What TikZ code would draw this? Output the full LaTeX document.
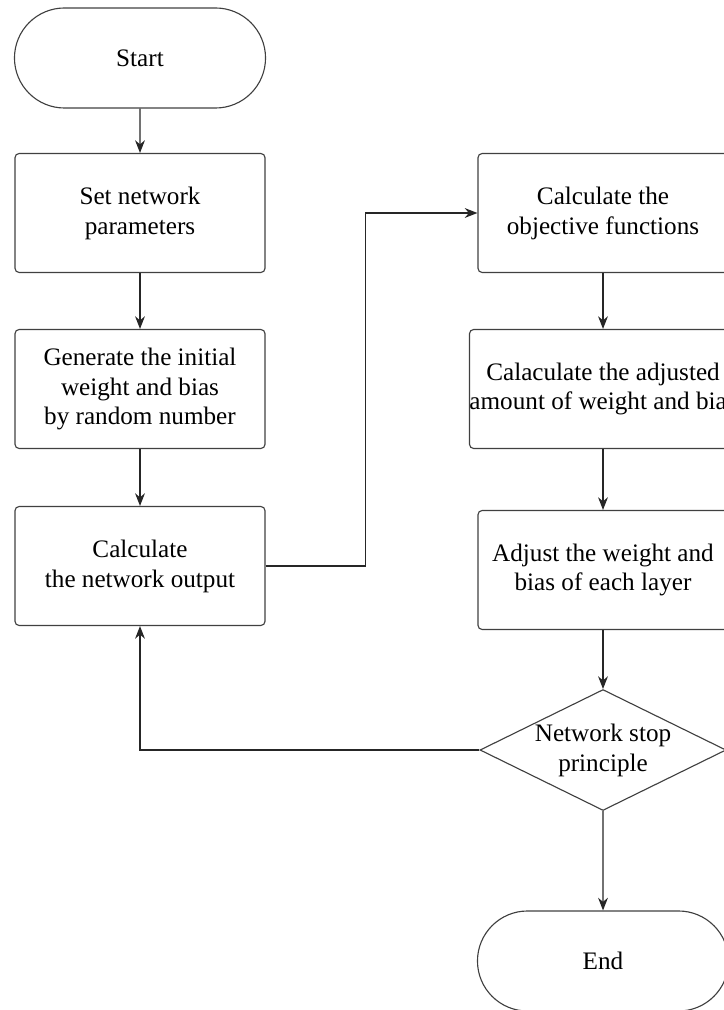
\documentclass[tikz,border=0pt]{standalone}
\usepackage{fontspec}
\setmainfont{Liberation Serif}
\usetikzlibrary{shapes.misc,shapes.geometric,arrows.meta}
\begin{document}
\begin{tikzpicture}[x=0.025cm, y=-0.025cm,
    font=\fontsize{17.9}{21.3}\selectfont,
    box/.style={draw=black!75, line width=0.8pt, rounded corners=3pt,
        minimum width=6.25cm, minimum height=2.975cm, align=center, inner sep=0pt},
    term/.style={draw=black!75, line width=0.8pt, rounded rectangle,
        minimum width=6.275cm, minimum height=2.5cm, inner sep=0pt},
    cond/.style={draw=black!75, line width=0.8pt, diamond, aspect=2,
        minimum width=6.15cm, minimum height=3cm, align=center, inner sep=0pt},
    arr/.style={-{Stealth[length=9pt,width=7pt]}, line width=0.8pt, black!85}]
    \useasboundingbox (0,0) rectangle (723,1010);

    % Left column
    \node[term] (start) at (140,58) {Start};
    \node[box] (setp) at (140,213) {Set network\\parameters};
    \node[box] (init) at (140,389) {Generate the initial\\weight and bias\\by random number};
    \node[box] (out) at (140,566) {Calculate\\the network output};

    % Right column
    \node[box] (obj) at (603,213) {Calculate the\\objective functions};
    \node[box] (adj) at (603,389) {Calaculate the adjusted\\amount of weight and bias};
    \node[box] (upd) at (603,570) {Adjust the weight and\\bias of each layer};
    \node[cond] (stop) at (603,750) {Network stop\\principle};
    \node[term] (finish) at (603,961) {End};

    \draw[arr] (start) -- (setp);
    \draw[arr] (setp) -- (init);
    \draw[arr] (init) -- (out);
    \draw[arr] (out.east) -- ++(100,0) |- (obj.west);
    \draw[arr] (obj) -- (adj);
    \draw[arr] (adj) -- (upd);
    \draw[arr] (upd) -- (stop);
    \draw[arr] (stop.west) -| (out.south);
    \draw[arr] (stop) -- (finish);
\end{tikzpicture}
\end{document}
